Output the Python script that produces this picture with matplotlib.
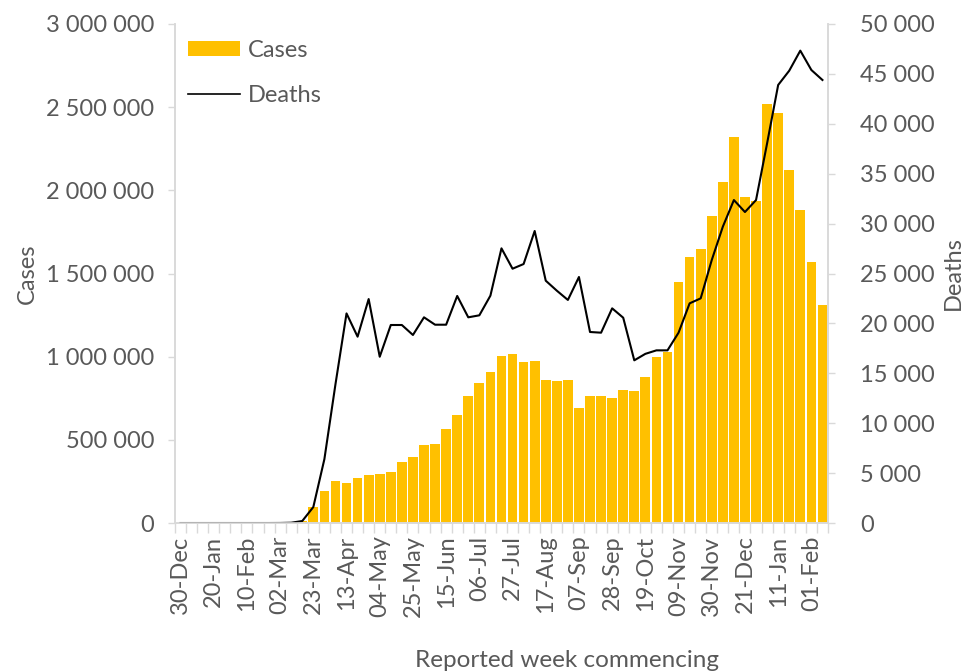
import numpy as np
import matplotlib
matplotlib.use('Agg')
import matplotlib.pyplot as plt
from matplotlib.ticker import FixedLocator, FuncFormatter
from matplotlib.patches import Patch
from matplotlib.lines import Line2D

plt.rcParams['font.family'] = ['Lato', 'DejaVu Sans']

# weekly data, week commencing 30-Dec-2019 .. 08-Feb-2021
cases = [0, 0, 0, 0, 0, 0, 0, 0, 0, 300, 2500, 14000,
         96000, 192000, 254000, 242000, 270000, 287000, 294000, 306000,
         368000, 397000, 469000, 473000, 565000, 649000, 761000, 839000,
         907000, 1005000, 1015000, 970000, 973000, 859000, 851000, 859000,
         693000, 763000, 763000, 753000, 801000, 795000, 879000, 996000,
         1028000, 1448000, 1598000, 1648000, 1843000, 2049000, 2318000,
         1961000, 1935000, 2520000, 2466000, 2125000, 1883000, 1567000,
         1310000]
deaths = [0, 0, 0, 0, 0, 0, 0, 0, 0, 5, 30, 200,
          1600, 6400, 13900, 21000, 18670, 22440, 16660, 19840,
          19840, 18840, 20610, 19870, 19870, 22750, 20610, 20810,
          22780, 27520, 25480, 25950, 29260, 24280, 23280, 22350,
          24650, 19140, 19070, 21510, 20570, 16300, 16950, 17300,
          17300, 19070, 22010, 22510, 26350, 29690, 32360,
          31160, 32360, 38040, 43890, 45320, 47330, 45390,
          44390]
tick_labels = ['30-Dec', '20-Jan', '10-Feb', '02-Mar', '23-Mar', '13-Apr',
               '04-May', '25-May', '15-Jun', '06-Jul', '27-Jul', '17-Aug',
               '07-Sep', '28-Sep', '19-Oct', '09-Nov', '30-Nov', '21-Dec',
               '11-Jan', '01-Feb']

grey = '#595959'
axis_grey = '#D9D9D9'
gold = '#FFC000'
fs = 17

x = np.arange(len(cases))
spaced = FuncFormatter(lambda v, p: f"{int(v):,}".replace(",", " "))

fig = plt.figure(figsize=(9.71, 6.72), dpi=100)
ax = fig.add_axes([0.1802, 0.2217, 0.8527 - 0.1802, 0.9643 - 0.2217])
ax2 = ax.twinx()

ax.bar(x, cases, width=0.88, color=gold)
ax2.plot(x, deaths, color='black', lw=1.5)

ax.set_xlim(-0.5, len(cases) - 0.5)
ax.set_ylim(0, 3000000)
ax2.set_ylim(0, 50000)
ax.set_yticks(np.arange(0, 3000001, 500000))
ax2.set_yticks(np.arange(0, 50001, 5000))
ax.yaxis.set_major_formatter(spaced)
ax2.yaxis.set_major_formatter(spaced)

ax.set_xticks(np.arange(0, len(cases), 3))
ax.set_xticklabels(tick_labels, rotation=90)
ax.xaxis.set_minor_locator(FixedLocator(np.arange(-0.5, len(cases), 1)))
ax.tick_params(axis='x', which='major', length=0, pad=9, labelsize=fs, colors=grey)
ax.tick_params(axis='x', which='minor', length=7, width=1, color=axis_grey)
ax.tick_params(axis='y', length=5, width=1, color=axis_grey, labelsize=fs,
               labelcolor=grey, pad=10)
ax2.tick_params(axis='y', length=5, width=1, color=axis_grey, labelsize=fs,
                labelcolor=grey, pad=18)

for a in (ax, ax2):
    a.spines['top'].set_visible(False)
    for s in ('left', 'right', 'bottom'):
        a.spines[s].set_color(axis_grey)
        a.spines[s].set_linewidth(1.2)

ax.set_ylabel('Cases', fontsize=fs, color=grey, labelpad=6)
ax2.set_ylabel('Deaths', fontsize=fs, color=grey, labelpad=6)
ax.set_xlabel('Reported week commencing', fontsize=17.5, color=grey)
ax.xaxis.set_label_coords(0.60, -0.255)

handles = [Patch(facecolor=gold, label='Cases'),
           Line2D([], [], color='black', lw=1.2, label='Deaths')]
leg = ax2.legend(handles=handles, loc='upper left', bbox_to_anchor=(-0.012, 1.01),
                 frameon=False, fontsize=fs, handlelength=2.2, handleheight=0.6,
                 labelspacing=1.0, handletextpad=0.3, labelcolor=grey)

fig.savefig('out.png', dpi=100)
plt.close(fig)
